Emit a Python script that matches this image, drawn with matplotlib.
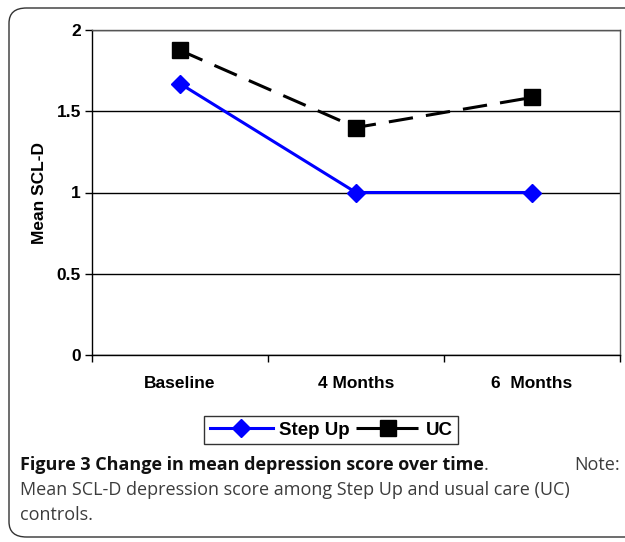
import matplotlib
matplotlib.use('Agg')
import matplotlib.pyplot as plt
from matplotlib.patches import FancyBboxPatch

# ---- data ----
timepoints = ['Baseline', '4 Months', '6  Months']
step_up = [1.67, 1.0, 1.0]
uc = [1.875, 1.40, 1.585]
y_ticks = [0, 0.5, 1, 1.5, 2]
y_tick_labels = ['0', '0.5', '1', '1.5', '2']

W, H = 625, 542
fig = plt.figure(figsize=(W / 100, H / 100), dpi=100)

# outer rounded frame of the figure panel
frame = FancyBboxPatch((9 / W, 5 / H), 1.2, 529 / H,
                       boxstyle='round,pad=0,rounding_size=0.028',
                       transform=fig.transFigure, facecolor='none',
                       edgecolor='#333333', linewidth=1.0)
fig.patches.append(frame)

ax = fig.add_axes([92 / W, 1 - 355 / H, 528 / W, 325 / H])
x = list(range(len(timepoints)))

ax.plot(x, step_up, color='#0000ff', linewidth=2.2, marker='D', markersize=9.5,
        label='Step Up', zorder=3)
ax.plot(x, uc, color='black', linewidth=2.2, linestyle=(0, (8, 4.3)), marker='s',
        markersize=11.5, label='UC', zorder=3)

tick_font = dict(family='Liberation Sans', weight='bold', size=12.5)

ax.set_xlim(-0.5, 2.5)
ax.set_ylim(0, 2)
ax.set_yticks(y_ticks)
ax.set_yticklabels(y_tick_labels, fontdict=tick_font)
ax.set_xticks(x)
ax.set_xticklabels(timepoints, fontdict=tick_font)
ax.tick_params(axis='x', length=0, pad=15)
ax.set_xticks([-0.5, 0.5, 1.5, 2.5], minor=True)
ax.tick_params(axis='x', which='minor', length=5, width=1, direction='out')
ax.tick_params(axis='y', length=5, width=1, direction='out', pad=3)

ax.grid(axis='y', color='black', linewidth=1.0)
ax.set_axisbelow(True)
for s in ax.spines.values():
    s.set_linewidth(1.0)
    s.set_color('black')
ax.spines['top'].set_color('#555555')
ax.spines['right'].set_color('#555555')

ax.set_ylabel('Mean SCL-D', fontdict=tick_font, labelpad=7)

leg = fig.legend(loc='center', bbox_to_anchor=(331 / W, 1 - 430 / H), ncol=2,
                 prop=dict(family='Liberation Sans', weight='bold', size=13.5),
                 frameon=True, fancybox=False, edgecolor='black',
                 handlelength=3.4, columnspacing=0.35, handletextpad=0.3,
                 borderpad=0.3, borderaxespad=0)
leg.get_frame().set_linewidth(1.0)

# caption (first line is justified in the source, so "Note:" sits at the right edge)
cap_font = 'Open Sans'
cap_size = 13
cap_color = '#3c3c3c'
bold = fig.text(20 / W, 1 - 465 / H, 'Figure 3 Change in mean depression score over time',
                fontfamily=cap_font, fontweight='bold', fontsize=cap_size,
                va='center', ha='left', color='#111111')
fig.canvas.draw()
bb = bold.get_window_extent()
fig.text(bb.x1 / W, 1 - 465 / H, '.', fontfamily=cap_font, fontsize=cap_size,
         va='center', ha='left', color=cap_color)
fig.text(620 / W, 1 - 465 / H, 'Note:', fontfamily=cap_font, fontsize=cap_size,
         va='center', ha='right', color=cap_color)
fig.text(20 / W, 1 - 490 / H,
         'Mean SCL-D depression score among Step Up and usual care (UC)',
         fontfamily=cap_font, fontsize=cap_size, va='center', ha='left', color=cap_color)
fig.text(20 / W, 1 - 515 / H, 'controls.', fontfamily=cap_font, fontsize=cap_size,
         va='center', ha='left', color=cap_color)

fig.savefig('out.png', dpi=100)
